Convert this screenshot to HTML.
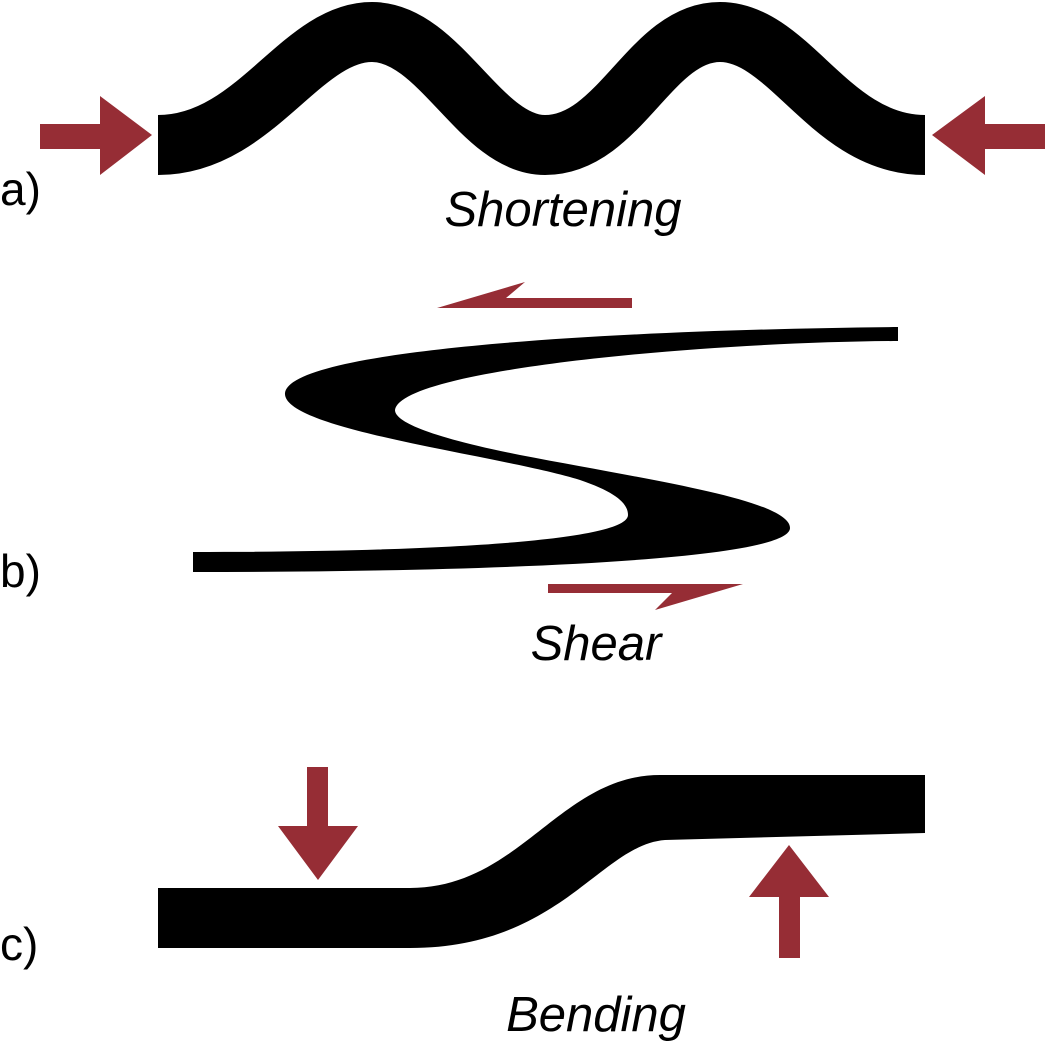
<!DOCTYPE html>
<html><head><meta charset="utf-8"><style>
html,body{margin:0;padding:0;background:#fff;}
svg{display:block;}
text{font-family:"Liberation Sans",sans-serif;font-size:49px;fill:#000;}
</style></head><body>
<svg width="1045" height="1056" viewBox="0 0 1045 1056">
<g>
<path d="M158,145 C255,145 300,32 372,32 C440,32 480,145 545,145 C620,145 650,32 720,32 C790,32 830,145 925,145" fill="none" stroke="#000" stroke-width="60"/>
<polygon fill="#962d35" points="40,124 100,124 100,96 152,135 100,175 100,149 40,149"/>
<polygon fill="#962d35" points="1045,124 985,124 985,96 932,135 985,175 985,149 1045,149"/>
<text x="0" y="205" style="font-size:46px">a)</text>
<text x="563" y="226" text-anchor="middle" font-style="italic">Shortening</text>
</g>
<g>
<path fill="#000" d="M898,327 C600,330 290,350 285,393 C282,430 500,455 580,480 C615,492 628,503 628,515 C628,540 450,552 193,552 L193,572 C500,572 790,560 790,528 C790,500 650,480 520,455 C420,435 395,420 395,410 C400,370 700,342 898,341 Z"/>
<polygon fill="#962d35" points="632,298 506,298 525,282 437,308 632,308"/>
<polygon fill="#962d35" points="548,584 743,584 655,610 672,593 548,593"/>
<text x="0" y="587" style="font-size:46px">b)</text>
<text x="596" y="660" text-anchor="middle" font-style="italic">Shear</text>
</g>
<g>
<path fill="#000" d="M158,888 L410,888 C520,888 560,775 660,775 L925,775 L925,833 L665,840 C600,845 560,948 410,948 L158,948 Z"/>
<polygon fill="#962d35" points="307,767 328,767 328,826 358,826 318,880 278,826 307,826"/>
<polygon fill="#962d35" points="779,958 800,958 800,897 829,897 789,845 749,897 779,897"/>
<text x="0" y="960" style="font-size:46px">c)</text>
<text x="596" y="1031" text-anchor="middle" font-style="italic">Bending</text>
</g>
</svg>
</body></html>
